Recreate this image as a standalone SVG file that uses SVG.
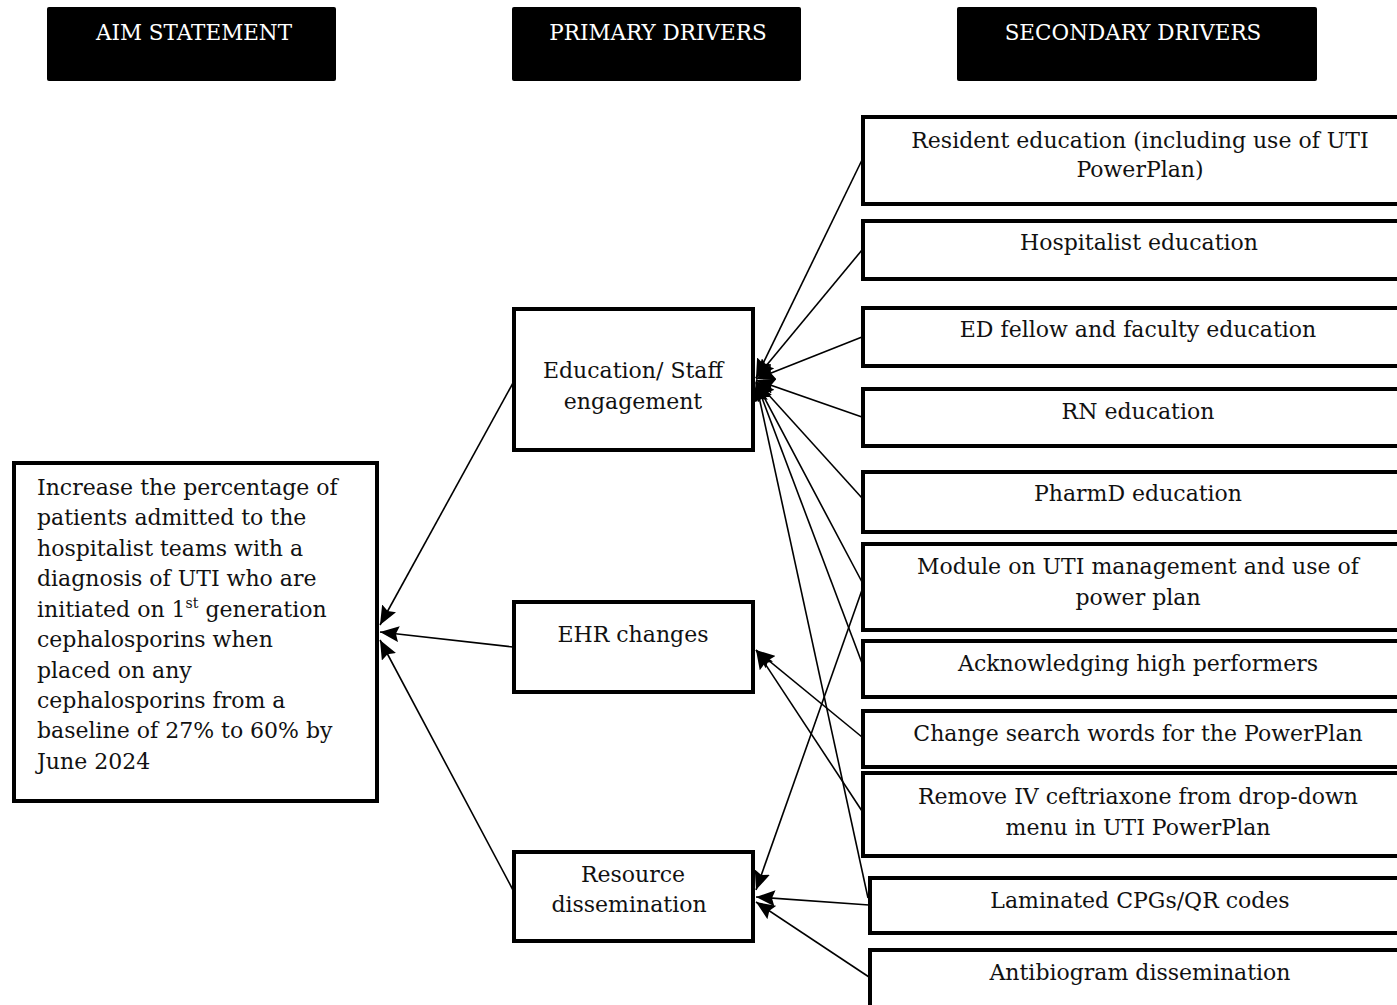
<svg xmlns="http://www.w3.org/2000/svg" width="1397" height="1005" viewBox="0 0 1397 1005">
<style>
.hdr{fill:#000}
.hdrt{fill:#fff;font-family:"DejaVu Serif","Liberation Serif",serif;font-size:21.5px;text-anchor:middle}
.box{fill:#fff;stroke:#000;stroke-width:4}
.t{font-family:"DejaVu Serif","Liberation Serif",serif;font-size:22px;fill:#111;text-anchor:middle}
.tl{font-family:"DejaVu Serif","Liberation Serif",serif;font-size:22px;fill:#111}
.c{stroke:#000;stroke-width:1.6;fill:none;marker-end:url(#ah)}
</style>
<defs>
<marker id="ah" markerUnits="userSpaceOnUse" markerWidth="20" markerHeight="16" refX="19" refY="8" orient="auto">
<path d="M0,0 L19,8 L0,16 L3,8 Z" fill="#000"/>
</marker>
</defs>
<rect width="1397" height="1005" fill="#fff"/>
<g id="hdr-aim"><rect class="hdr" x="47" y="7" width="289" height="74" rx="2"/><text class="hdrt" x="194" y="40">AIM STATEMENT</text></g>
<g id="hdr-primary"><rect class="hdr" x="512" y="7" width="289" height="74" rx="2"/><text class="hdrt" x="658" y="40">PRIMARY DRIVERS</text></g>
<g id="hdr-secondary"><rect class="hdr" x="957" y="7" width="360" height="74" rx="2"/><text class="hdrt" x="1133" y="40">SECONDARY DRIVERS</text></g>

<g id="connectors">
<line class="c" x1="513" y1="383" x2="380" y2="625"/>
<line class="c" x1="513" y1="647" x2="380" y2="632"/>
<line class="c" x1="513" y1="890" x2="380" y2="640"/>
<line class="c" x1="862" y1="160" x2="756" y2="378"/>
<line class="c" x1="862" y1="250" x2="756" y2="378"/>
<line class="c" x1="862" y1="337" x2="756" y2="379"/>
<line class="c" x1="862" y1="417" x2="756" y2="380"/>
<line class="c" x1="862" y1="498" x2="756" y2="381"/>
<line class="c" x1="862" y1="582" x2="756" y2="382"/>
<line class="c" x1="862" y1="663" x2="756" y2="382"/>
<line class="c" x1="868" y1="898" x2="756" y2="383"/>
<line class="c" x1="862" y1="737" x2="756" y2="650"/>
<line class="c" x1="862" y1="811" x2="756" y2="650"/>
<line class="c" x1="862" y1="590" x2="756" y2="890"/>
<line class="c" x1="869" y1="905" x2="756" y2="897"/>
<line class="c" x1="869" y1="977" x2="756" y2="902"/>
</g>

<g id="aim"><rect class="box" x="14" y="463" width="363" height="338"/>
<text class="tl" x="37" y="495">Increase the percentage of</text>
<text class="tl" x="37" y="525">patients admitted to the</text>
<text class="tl" x="37" y="556">hospitalist teams with a</text>
<text class="tl" x="37" y="586">diagnosis of UTI who are</text>
<text class="tl" x="37" y="617">initiated on 1<tspan font-size="14" dy="-9">st</tspan><tspan dy="9"> generation</tspan></text>
<text class="tl" x="37" y="647">cephalosporins when</text>
<text class="tl" x="37" y="678">placed on any</text>
<text class="tl" x="37" y="708">cephalosporins from a</text>
<text class="tl" x="37" y="738">baseline of 27% to 60% by</text>
<text class="tl" x="37" y="769">June 2024</text>
</g>

<g id="p-education"><rect class="box" x="514" y="309" width="239" height="141"/>
<text class="t" x="633" y="378">Education/ Staff</text><text class="t" x="633" y="409">engagement</text></g>
<g id="p-ehr"><rect class="box" x="514" y="602" width="239" height="90"/>
<text class="t" x="633" y="642">EHR changes</text></g>
<g id="p-resource"><rect class="box" x="514" y="852" width="239" height="89"/>
<text class="t" x="633" y="882">Resource</text><text class="t" x="629" y="912">dissemination</text></g>

<g id="s-resident"><rect class="box" x="863" y="117" width="545" height="87"/>
<text class="t" x="1140" y="148">Resident education (including use of UTI</text><text class="t" x="1140" y="177">PowerPlan)</text></g>
<g id="s-hospitalist"><rect class="box" x="863" y="221" width="545" height="58"/>
<text class="t" x="1139" y="250">Hospitalist education</text></g>
<g id="s-ed"><rect class="box" x="863" y="308" width="545" height="58"/>
<text class="t" x="1138" y="337">ED fellow and faculty education</text></g>
<g id="s-rn"><rect class="box" x="863" y="389" width="545" height="57"/>
<text class="t" x="1138" y="419">RN education</text></g>
<g id="s-pharmd"><rect class="box" x="863" y="472" width="545" height="60"/>
<text class="t" x="1138" y="501">PharmD education</text></g>
<g id="s-module"><rect class="box" x="863" y="544" width="545" height="86"/>
<text class="t" x="1138" y="574">Module on UTI management and use of</text><text class="t" x="1138" y="605">power plan</text></g>
<g id="s-ack"><rect class="box" x="863" y="641" width="545" height="56"/>
<text class="t" x="1138" y="671">Acknowledging high performers</text></g>
<g id="s-search"><rect class="box" x="863" y="711" width="545" height="56"/>
<text class="t" x="1138" y="741">Change search words for the PowerPlan</text></g>
<g id="s-remove"><rect class="box" x="863" y="773" width="545" height="83"/>
<text class="t" x="1138" y="804">Remove IV ceftriaxone from drop-down</text><text class="t" x="1138" y="835">menu in UTI PowerPlan</text></g>
<g id="s-laminated"><rect class="box" x="870" y="878" width="545" height="55"/>
<text class="t" x="1140" y="908">Laminated CPGs/QR codes</text></g>
<g id="s-antibiogram"><rect class="box" x="870" y="950" width="545" height="70"/>
<text class="t" x="1140" y="980">Antibiogram dissemination</text></g>
</svg>
